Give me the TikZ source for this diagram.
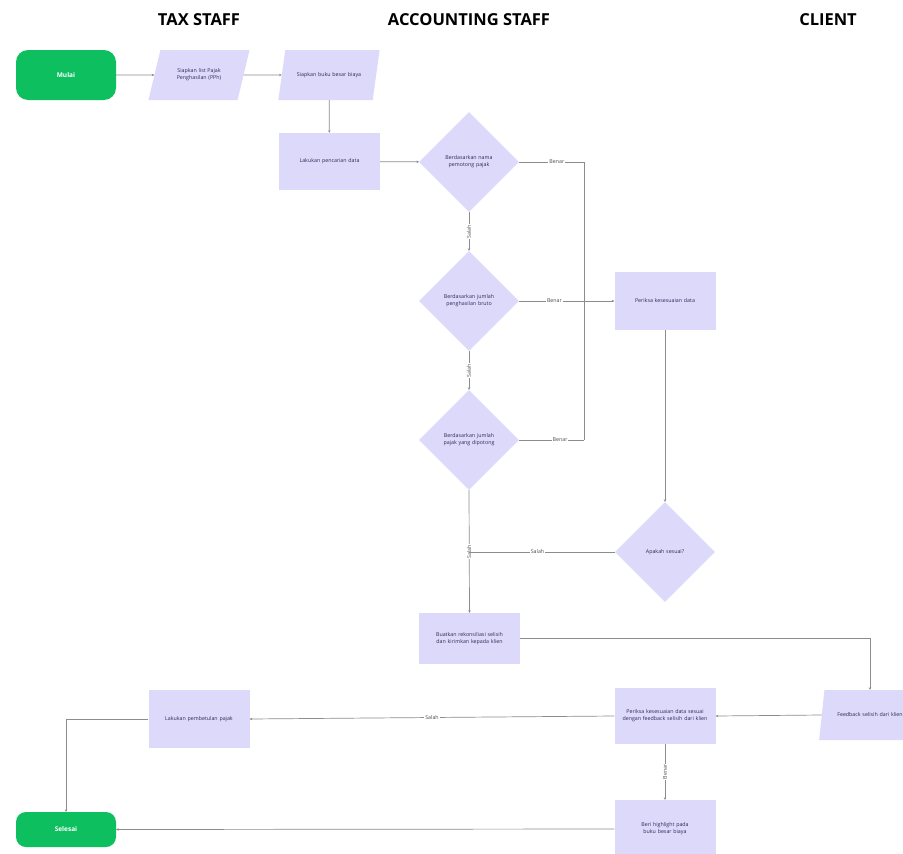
\documentclass[tikz,border=0pt]{standalone}
\usepackage{fontspec}
\setmainfont{Open Sans}
\usetikzlibrary{shapes.geometric,arrows.meta}
\definecolor{lav}{HTML}{DCD9FB}
\definecolor{grn}{HTML}{0DBF5F}
\definecolor{lin}{HTML}{8C8C8C}
\definecolor{txt}{HTML}{2A2A55}
\begin{document}
\begin{tikzpicture}[x=1pt,y=-1pt,
  every node/.style={font=\fontsize{5.3}{7}\selectfont},
  proc/.style={fill=lav,minimum width=101pt,minimum height=57pt,text width=92pt,align=center,text=txt,inner sep=1pt},
  term/.style={fill=grn,rounded corners=12pt,minimum width=100pt,minimum height=50pt,text=white,font=\fontsize{6.5}{8}\selectfont\bfseries},
  para/.style={trapezium,trapezium left angle=52,trapezium right angle=128,trapezium stretches=true,fill=lav,minimum width=102pt,minimum height=50pt,text width=70pt,align=center,text=txt,inner sep=1pt},
  dec/.style={diamond,aspect=1,fill=lav,minimum width=100pt,minimum height=100pt,text width=58pt,align=center,text=txt,inner sep=0pt},
  conn/.style={draw=lin,line width=0.7pt},
  arr/.style={conn,-{Stealth[length=2.5pt,width=2.5pt]}},
  lbl/.style={fill=white,inner sep=1pt,text=black!70},
  vlbl/.style={lbl,rotate=90},
  head/.style={font=\fontsize{16.5}{18}\selectfont\bfseries,text=black}
]
\clip (0,0) rectangle (903,854);
\fill[white] (0,0) rectangle (903,854);

\node[head] (h1) at (199,20) {TAX STAFF};
\node[head] (h2) at (469,20) {ACCOUNTING STAFF};
\node[head] (h3) at (828,20) {CLIENT};

\node[term] (mulai) at (66,75) {Mulai};
\node[para] (p1) at (199,75) {Siapkan list Pajak Penghasilan (PPh)};
\node[para] (p2) at (329,75) {Siapkan buku besar biaya};
\node[proc] (cari) at (329.5,161.5) {Lakukan pencarian data};
\node[dec] (d1) at (469,162) {Berdasarkan nama pemotong pajak};
\node[dec] (d2) at (469,301) {Berdasarkan jumlah penghasilan bruto};
\node[dec] (d3) at (469,440) {Berdasarkan jumlah pajak yang dipotong};
\node[proc,minimum height=58pt] (cek) at (665,301) {Periksa kesesuaian data};
\node[dec] (d4) at (665,552) {Apakah sesuai?};
\node[proc,minimum height=51pt] (buat) at (469.5,638.5) {Buatkan rekonsiliasi selisih dan kirimkan kepada klien};
\node[para,text width=80pt] (fb) at (870,715) {Feedback selisih dari klien};
\node[proc,minimum height=56pt] (cek2) at (665,716) {Periksa kesesuaian data sesuai dengan feedback selisih dari klien};
\node[proc,minimum height=58pt] (betul) at (199,719) {Lakukan pembetulan pajak};
\node[proc,minimum height=58pt] (hl) at (665,829) {Beri highlight pada buku besar biaya};
\node[term,minimum height=35pt,rounded corners=10pt] (selesai) at (66,829.5) {Selesai};

\coordinate (j1) at (584,162);
\coordinate (j3) at (584,440);
\coordinate (jm) at (469,552);

\draw[arr] (mulai) -- (p1);
\draw[arr] (p1) -- (p2);
\draw[arr] (p2) -- (cari);
\draw[arr] (cari) -- (d1);
\draw[conn] (d1.east) -- node[lbl,pos=0.58]{Benar} (j1) -- (j3);
\draw[conn] (d3.east) -- node[lbl,pos=0.63]{Benar} (j3);
\draw[arr] (d2.east) -- node[lbl,pos=0.37]{Benar} (cek.west);
\draw[arr] (d1.south) -- node[vlbl]{Salah} (d2.north);
\draw[arr] (d2.south) -- node[vlbl]{Salah} (d3.north);
\draw[arr] (d3.south) -- node[vlbl]{Salah} (buat.north);
\draw[arr] (cek.south) -- (d4.north);
\draw[conn] (d4.west) -- node[lbl,pos=0.53]{Salah} (jm);
\draw[arr] (buat.east) -| (fb.north);
\draw[arr] (fb.west) -- (cek2.east);
\draw[arr] (cek2.west) -- node[lbl,pos=0.5]{Salah} (betul.east);
\draw[arr] (betul.west) -| (selesai.north);
\draw[arr] (cek2.south) -- node[vlbl]{Benar} (hl.north);
\draw[arr] (hl.west) -- (selesai.east);
\end{tikzpicture}
\end{document}
